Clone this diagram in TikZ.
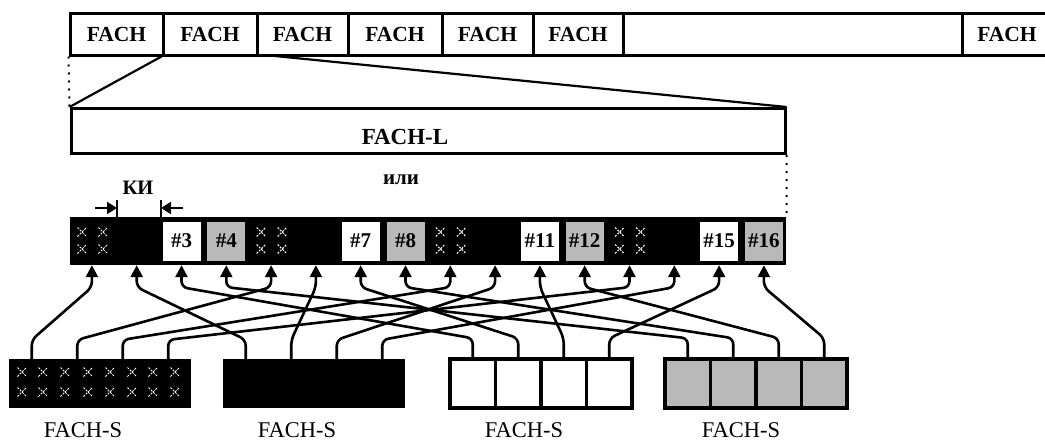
\documentclass[tikz,border=0pt]{standalone}
\usepackage{fontspec}
\setmainfont{Liberation Serif}
\usetikzlibrary{arrows.meta,calc}
\begin{document}
\begin{tikzpicture}[x=1pt,y=-1pt,
  fcell/.style={draw=black,line width=3pt,minimum height=42pt,inner sep=0pt,
    font=\fontsize{21.5}{24}\selectfont\bfseries},
  lbox/.style={draw=black,line width=3pt,inner sep=0pt},
  lbl/.style={inner sep=0pt,font=\fontsize{23}{26}\selectfont\bfseries},
  smalllbl/.style={inner sep=0pt,font=\fontsize{21}{24}\selectfont\bfseries},
  slbl/.style={inner sep=0pt,font=\fontsize{22.5}{25}\selectfont},
  rowst/.style={fill=black,inner sep=0pt,minimum width=716.8pt,minimum height=48pt},
  cell/.style={inner sep=0pt,minimum width=44.8pt,minimum height=48pt},
  wbox/.style={fill=white,inner sep=0pt,minimum width=38pt,minimum height=39pt,
    font=\fontsize{21}{23}\selectfont\bfseries},
  gbox/.style={wbox,fill=gray!55},
  bbk/.style={fill=black,inner sep=0pt,minimum width=45.5pt,minimum height=49pt},
  bwh/.style={draw=black,fill=white,line width=3.5pt,inner sep=0pt,minimum width=45.5pt,minimum height=49pt},
  bgr/.style={bwh,fill=gray!55},
  crossst/.style={white,line width=1pt,dash pattern=on 2pt off 1.3pt},
  conn/.style={line width=2.6pt,rounded corners=6pt,-{Triangle[length=12pt,width=12pt]}},
  kiar/.style={line width=2pt,-{Triangle[length=10pt,width=12pt]}},
  zline/.style={line width=2.2pt},
  dotst/.style={line width=2pt,dash pattern=on 2pt off 6pt}
]
\clip (0,0) rectangle (1045,442);
\fill[white] (0,0) rectangle (1045,442);

% top FACH bar
\foreach \a/\b/\n in {70/163/1,163/257/2,257/348/3,348/442/4,442/533/5,533/623/6,962/1052/8}{
  \pgfmathsetmacro\w{\b-\a}
  \pgfmathsetmacro\c{(\a+\b)/2}
  \node[fcell,minimum width=\w pt] (f\n) at (\c,34) {FACH};
}
\node[fcell,minimum width=339pt] (f7) at (792.5,34) {};

% FACH-L
\node[lbox,minimum width=714pt,minimum height=45pt] (L) at (428,131) {};
\node[lbl] (Lt) at (405,137) {FACH-L};
\coordinate (zr) at (275,56);
\draw[zline] (f2.south west) -- (L.north west);
\draw[zline] (zr) -- (L.north east);
\draw[dotst] (f1.south west) -- (L.north west);

\node[smalllbl] (ili) at (401,180) {или};

% slot row
\node[rowst] (row) at (427.9,241) {};
\foreach \k in {1,...,16}{
  \pgfmathsetmacro\xc{69.5+44.8*(\k-0.5)}
  \node[cell] (s\k) at (\xc,241) {};
}
\draw[dotst] (L.south east) -- (row.north east);
\foreach \k in {3,7,11,15}{ \node[wbox] (t\k) at (s\k) {\#\k}; }
\foreach \k in {4,8,12,16}{ \node[gbox] (t\k) at (s\k) {\#\k}; }
\foreach \k in {1,5,9,13}{
  \foreach \dx in {12.5,33.5}{
    \foreach \yy in {232,249}{
      \pgfmathsetmacro\xx{69.5+44.8*(\k-1)+\dx}
      \draw[crossst] (\xx-4.5,\yy-4.5) -- (\xx+4.5,\yy+4.5) (\xx-4.5,\yy+4.5) -- (\xx+4.5,\yy-4.5);
    }
  }
}

% KI marker
\node[lbl,font=\fontsize{20.5}{22}\selectfont\bfseries] (ki) at (138,188) {КИ};
\coordinate (ka) at (95,208);
\coordinate (kb) at (117,208);
\coordinate (kc) at (183,208);
\coordinate (kd) at (161,208);
\draw[kiar] (ka) -- (kb);
\draw[kiar] (kc) -- (kd);
\draw[line width=2pt] (117,200) -- (117,217);
\draw[line width=2pt] (161,200) -- (161,217);

% bottom FACH-S groups
\foreach \g/\gl/\st in {1/9/bbk,2/223/bbk,3/450/bwh,4/665/bgr}{
  \foreach \i in {1,...,4}{
    \pgfmathtruncatemacro\b{4*(\g-1)+\i}
    \pgfmathsetmacro\bx{\gl+45.5*(\i-0.5)}
    \node[\st] (b\b) at (\bx,383.5) {};
  }
}
\foreach \xx in {22,43,65,88,110,132,153,175}{
  \foreach \yy in {372,392}{
    \draw[crossst] (\xx-4.5,\yy-4.5) -- (\xx+4.5,\yy+4.5) (\xx-4.5,\yy+4.5) -- (\xx+4.5,\yy-4.5);
  }
}
\node[slbl] (l1) at (83,430) {FACH-S};
\node[slbl] (l2) at (297,430) {FACH-S};
\node[slbl] (l3) at (524,430) {FACH-S};
\node[slbl] (l4) at (741,430) {FACH-S};

% connectors
\foreach \k in {1,...,16}{
  \pgfmathtruncatemacro\g{mod(\k-1,4)+1}
  \pgfmathtruncatemacro\i{int((\k-1)/4)+1}
  \pgfmathtruncatemacro\b{4*(\g-1)+\i}
  \draw[conn] (b\b.north) -- ++(0,-19) -- ([yshift=-22pt]s\k.south) -- (s\k.south);
}
\end{tikzpicture}
\end{document}
